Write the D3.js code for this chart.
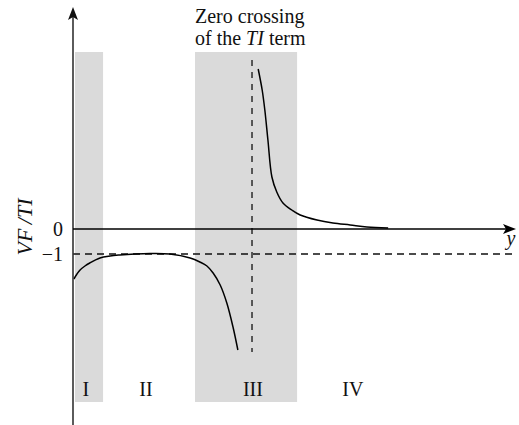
<!DOCTYPE html>
<html>
<head>
<meta charset="utf-8">
<script src="https://cdn.jsdelivr.net/npm/d3@7"></script>
<style>
body { margin: 0; background: #fff; }
text { font-family: "Liberation Serif", "Times New Roman", serif; fill: #111; }
</style>
</head>
<body>
<div id="my_dataviz"></div>
<script>
// data in chart units: x is position along y-axis (0..100), v is VF/TI
var leftX = [0.2, 0.9, 1.6, 2.7, 3.8, 6.1, 8.4, 10.6, 14.0, 17.4, 21.9, 26.5, 28.7, 30.3, 31.7, 33.3, 34.8, 36.2, 37.3];
var leftV = [-2.0, -1.8, -1.64, -1.48, -1.36, -1.16, -1.08, -1.04, -1.0, -0.98, -1.0, -1.16, -1.32, -1.48, -1.76, -2.24, -2.96, -3.92, -4.84];
var rightX = [41.9, 42.8, 43.4, 44.1, 45.0, 46.1, 47.5, 49.5, 51.4, 55.2, 58.8, 62.7, 66.5, 71.3];
var rightV = [6.4, 5.56, 4.76, 3.56, 2.08, 1.48, 1.04, 0.76, 0.56, 0.36, 0.24, 0.16, 0.08, 0.04];

var regionLabels = ["I", "II", "III", "IV"];
var regionCenters = [2.9, 16.5, 40.7, 63.3];
var shadedBands = [[0.45, 6.8], [27.6, 50.7]];
var bandTop = 7.08, bandBottom = -6.92;
var asymptoteX = 40.5;
var yTicks = [0, -1];
var yTickLabels = ["0", "\u22121"];

var width = 519, height = 425;

var svg = d3.select("#my_dataviz")
  .append("svg")
  .attr("width", width)
  .attr("height", height);

var x = d3.scaleLinear().domain([0, 100]).range([73, 515]);
var y = d3.scaleLinear().domain([0, -1]).range([229, 254]);

// shaded regions
svg.append("g")
  .selectAll("rect")
  .data(shadedBands)
  .enter()
  .append("rect")
  .attr("x", function(d){ return x(d[0]); })
  .attr("width", function(d){ return x(d[1]) - x(d[0]); })
  .attr("y", y(bandTop))
  .attr("height", y(bandBottom) - y(bandTop))
  .style("fill", "#dadada");

// dashed guides: level -1 and the zero crossing
svg.append("line")
  .attr("x1", x(0)).attr("x2", x(100))
  .attr("y1", y(-1)).attr("y2", y(-1))
  .attr("stroke", "#111")
  .attr("stroke-width", 1.3)
  .attr("stroke-dasharray", "7,5");

svg.append("line")
  .attr("x1", x(asymptoteX)).attr("x2", x(asymptoteX))
  .attr("y1", y(6.76)).attr("y2", y(-4.92))
  .attr("stroke", "#111")
  .attr("stroke-width", 1.3)
  .attr("stroke-dasharray", "6,6");

// curves
var line = d3.line()
  .x(function(d){ return x(d[0]); })
  .y(function(d){ return y(d[1]); })
  .curve(d3.curveCatmullRom.alpha(0.5));

[[leftX, leftV], [rightX, rightV]].forEach(function(s) {
  svg.append("path")
    .datum(d3.zip(s[0], s[1]))
    .attr("d", line)
    .attr("fill", "none")
    .attr("stroke", "#000")
    .attr("stroke-width", 1.5);
});

// axes with arrow heads
svg.append("line")
  .attr("x1", x(0)).attr("x2", x(0))
  .attr("y1", height).attr("y2", 14)
  .attr("stroke", "#333")
  .attr("stroke-width", 1.6);
svg.append("path")
  .attr("d", "M" + x(0) + ",7 l-5,13 l5,-3 l5,3 z")
  .attr("fill", "#111");

svg.append("line")
  .attr("x1", x(0)).attr("x2", x(100) - 6)
  .attr("y1", y(0)).attr("y2", y(0))
  .attr("stroke", "#000")
  .attr("stroke-width", 1.5);
svg.append("path")
  .attr("d", "M" + (x(100) + 1) + "," + y(0) + " l-13,-5 l3,5 l-3,5 z")
  .attr("fill", "#000");

// tick labels
svg.append("g")
  .selectAll("text")
  .data(yTicks)
  .enter()
  .append("text")
  .attr("x", 63)
  .attr("y", function(d){ return y(d); })
  .attr("dy", "0.35em")
  .attr("text-anchor", "end")
  .style("font-size", "20px")
  .text(function(d, i){ return yTickLabels[i]; });

// axis titles
svg.append("text")
  .attr("transform", "translate(32,227) rotate(-90)")
  .attr("text-anchor", "middle")
  .style("font-size", "22px")
  .style("font-style", "italic")
  .text("VF\u2009/TI");

svg.append("text")
  .attr("x", 511)
  .attr("y", 245)
  .attr("text-anchor", "middle")
  .style("font-size", "20px")
  .style("font-style", "italic")
  .text("y");

// region labels
svg.append("g")
  .selectAll("text")
  .data(regionLabels)
  .enter()
  .append("text")
  .attr("x", function(d, i){ return x(regionCenters[i]); })
  .attr("y", y(-6.68))
  .attr("text-anchor", "middle")
  .style("font-size", "20px")
  .text(function(d){ return d; });

// annotation
var note = svg.append("text")
  .attr("x", 195)
  .attr("y", 23)
  .style("font-size", "20px");
note.append("tspan").attr("x", 195).text("Zero crossing");
var l2 = note.append("tspan").attr("x", 195).attr("dy", 22);
l2.append("tspan").text("of the ");
l2.append("tspan").style("font-style", "italic").text("TI");
l2.append("tspan").text(" term");
</script>
</body>
</html>
